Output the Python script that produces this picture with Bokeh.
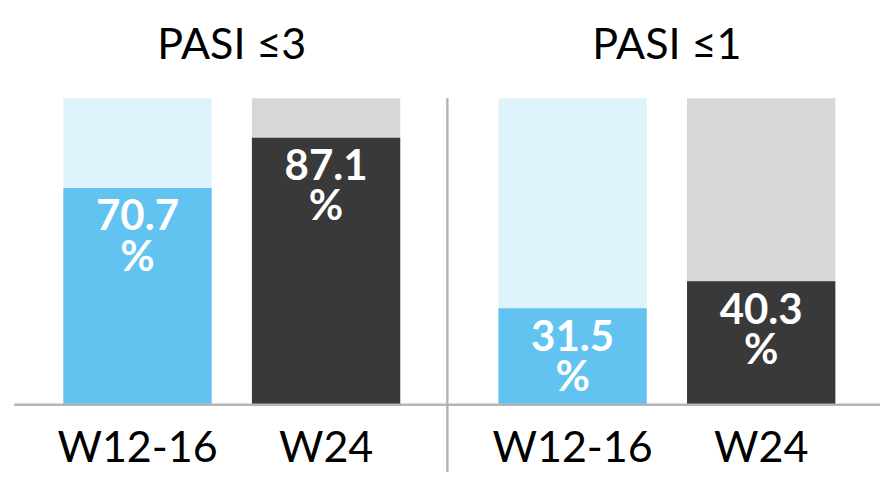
from bokeh.plotting import figure
from bokeh.models import Range1d, ColumnDataSource
from bokeh.core.properties import value
from bokeh.embed import file_html
from bokeh.resources import INLINE

# ---- data ----
groups = ["PASI ≤3", "PASI ≤1"]
timepoints = ["W12-16", "W24"]
pasi_le3 = [70.7, 87.1]
pasi_le1 = [31.5, 40.3]
fg_colors = ["#62C3F0", "#393939"]
bg_colors = ["#DEF2FB", "#D7D7D7"]

series = [pasi_le3, pasi_le1]

# ---- layout constants ----
W, H = 880, 472
SX, SY = W / 896, H / 488          # reference pixels -> figure pixels
PX_X = 192.0 * SX                  # pixels per category unit
PX_Y = 3.17 * SY                   # pixels per percent
GROUP_STEP = 443 / 192
BAR_W = 151 / 192
X0 = 139.5 * SX                    # figure x of first bar centre
BASE = 418 * SY                    # figure y of the 0 % baseline
x_start = -X0 / PX_X
x_end = x_start + W / PX_X
y_end = BASE / PX_Y
y_start = -(H - BASE) / PX_Y
BL = 0.42                          # baseline correction (em)

FS_VAL, FS_LAB, FS_TTL = 42, 43, 43


def ydat(fig_y):
    return (BASE - fig_y) / PX_Y


xs, tops, fgs, bgs, nums, labels = [], [], [], [], [], []
for g, vals in enumerate(series):
    for c, v in enumerate(vals):
        xs.append(g * GROUP_STEP + c)
        tops.append(v)
        fgs.append(fg_colors[c])
        bgs.append(bg_colors[c])
        nums.append(f"{v:.1f}")
        labels.append(timepoints[c])

src = ColumnDataSource(dict(
    x=xs, top=tops, fg=fgs, bg=bgs, num=nums, label=labels,
    full=[100] * len(xs),
    num_y=[t - (46 * SY - BL * FS_VAL) / PX_Y for t in tops],
    pct_y=[t - (87 * SY - BL * FS_VAL) / PX_Y for t in tops],
    pct=["%"] * len(xs),
    lab_y=[ydat(479 * SY - BL * FS_LAB)] * len(xs),
))

p = figure(width=W, height=H, x_range=Range1d(x_start, x_end),
           y_range=Range1d(y_start, y_end), min_border=0,
           x_axis_location=None, y_axis_location=None,
           toolbar_location=None, output_backend="svg",
           outline_line_color=None, background_fill_color="white")
p.grid.visible = False

# background (100 %) bars and value bars
p.vbar(x="x", top="full", bottom=0, width=BAR_W, fill_color="bg", line_color=None, source=src)
p.vbar(x="x", top="top", bottom=0, width=BAR_W, fill_color="fg", line_color=None, source=src)

# baseline and divider
p.segment(x0=[(14 - 139.5) / 192], y0=[0], x1=[x_end], y1=[0],
          line_color="#B5B5B5", line_width=2.5)
div_x = (455 - 139.5) / 192
p.segment(x0=[div_x], y0=[100], x1=[div_x], y1=[y_start],
          line_color="#B0B0B0", line_width=2.3)

# value labels
p.text(x="x", y="num_y", text="num", source=src, text_align="center",
       text_baseline="alphabetic", text_color="white",
       text_font=value("Lato"), text_font_style="bold", text_font_size=f"{FS_VAL}px")
p.text(x="x", y="pct_y", text="pct", source=src, text_align="center",
       text_baseline="alphabetic", text_color="white",
       text_font=value("Lato"), text_font_style="bold", text_font_size=f"{FS_VAL}px")

# category labels
p.text(x="x", y="lab_y", text="label", source=src, text_align="center",
       text_baseline="alphabetic", text_color="black",
       text_font=value("Lato"), text_font_size=f"{FS_LAB}px")

# group titles
p.text(x=[g * GROUP_STEP + 0.5 for g in range(len(groups))],
       y=[ydat(62 * SY - BL * FS_TTL)] * len(groups), text=groups,
       text_align="center", text_baseline="alphabetic", text_color="black",
       text_font=value("Lato"), text_font_size=f"{FS_TTL}px")

open("out.html", "w").write(file_html(p, INLINE))
